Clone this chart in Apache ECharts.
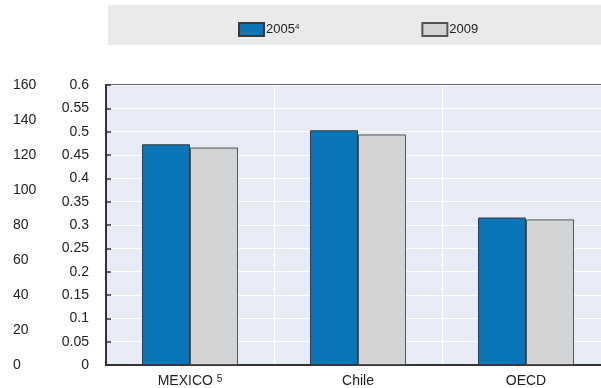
<!DOCTYPE html>
<html>
<head>
<meta charset="utf-8">
<script src="https://cdn.jsdelivr.net/npm/echarts@6/dist/echarts.min.js"></script>
<style>
  html, body { margin: 0; padding: 0; background: #fff; overflow: hidden; }
  #chart { width: 610px; height: 388px; }
</style>
</head>
<body>
<div id="chart"></div>
<script>
// categories and values
const categories = ['MEXICO', 'Chile', 'OECD'];
const categoryNotes = ['5', '', ''];
const values2005 = [0.473, 0.503, 0.316];
const values2009 = [0.466, 0.494, 0.312];
const seriesNames = ['2005', '2009'];
const seriesNotes = ['4', ''];

const chart = echarts.init(document.getElementById('chart'));

const textColor = '#222';
const font = 'Liberation Sans, Arial, sans-serif';

const option = {
  backgroundColor: '#ffffff',
  animation: false,
  // grey band behind the legend (plot runs past the right edge like the original)
  graphic: [
    { type: 'rect', z: -1, shape: { x: 108, y: 5, width: 502, height: 40 }, style: { fill: '#e9eaec' } }
  ],
  legend: {
    left: 233,
    top: 17,
    icon: 'rect',
    itemWidth: 25,
    itemHeight: 13,
    itemGap: 122,
    textStyle: {
      color: textColor, fontFamily: font, fontSize: 13, padding: [0, 0, 0, -3],
      rich: { sup: { fontSize: 8, verticalAlign: 'top', padding: [0, 0, 6, 0], color: textColor, fontFamily: font } }
    },
    formatter: (name) => {
      const i = seriesNames.indexOf(name);
      return seriesNotes[i] ? name + '{sup|' + seriesNotes[i] + '}' : name;
    }
  },
  grid: {
    left: 106,
    top: 85,
    bottom: 22,
    right: 0,
    show: true,
    backgroundColor: '#e7ebf6',
    borderColor: '#333',
    borderWidth: 1.5
  },
  xAxis: {
    type: 'category',
    data: categories,
    axisLine: { lineStyle: { color: '#333', width: 2 } },
    axisTick: { inside: true, length: 4, lineStyle: { color: '#333', width: 1.5 } },
    splitLine: { show: true, lineStyle: { color: '#ffffff', width: 1 } },
    axisLabel: {
      color: textColor, fontFamily: font, fontSize: 14, margin: 9,
      formatter: (v, idx) => categoryNotes[idx] ? v + ' {sup|' + categoryNotes[idx] + '}' : v,
      rich: { sup: { fontSize: 10, verticalAlign: 'top', color: textColor, fontFamily: font } }
    }
  },
  yAxis: [
    {
      type: 'value',
      min: 0, max: 0.6, interval: 0.05,
      axisLine: { show: true, lineStyle: { color: '#333', width: 2 } },
      axisTick: { show: true, inside: true, length: 5, lineStyle: { color: '#333', width: 1.5 } },
      splitLine: { show: true, lineStyle: { color: '#ffffff', width: 1 } },
      axisLabel: {
        color: textColor, fontFamily: font, fontSize: 14, margin: 17,
        formatter: (v) => String(Math.round(v * 100) / 100)
      }
    },
    {
      type: 'value',
      position: 'left',
      offset: 93,
      min: 0, max: 160, interval: 20,
      axisLine: { show: false },
      axisTick: { show: false },
      splitLine: { show: false },
      axisLabel: { color: textColor, fontFamily: font, fontSize: 14, margin: 0, align: 'left' }
    }
  ],
  series: [
    {
      name: seriesNames[0],
      type: 'bar',
      data: values2005,
      barWidth: 48,
      barGap: '0%',
      itemStyle: { color: '#0a75b9', borderColor: '#3a3a3a', borderWidth: 1 }
    },
    {
      name: seriesNames[1],
      type: 'bar',
      data: values2009,
      barWidth: 48,
      itemStyle: { color: '#d2d3d5', borderColor: '#555', borderWidth: 1 }
    }
  ]
};

chart.setOption(option);
</script>
</body>
</html>
